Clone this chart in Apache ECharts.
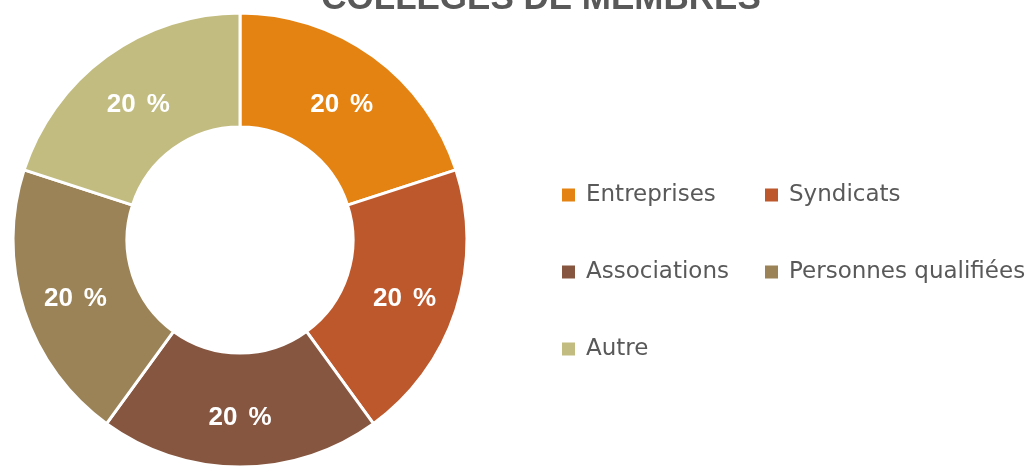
<!DOCTYPE html>
<html lang="fr">
<head>
    <meta charset="UTF-8">
    <title>Collèges de membres</title>
    <script src="https://cdn.jsdelivr.net/npm/echarts@6/dist/echarts.min.js"></script>
    <style>
        html, body { margin: 0; padding: 0; background: #fff; }
        #chart { width: 1035px; height: 468px; }
    </style>
</head>
<body>
<div id="chart"></div>
<script>
    // données du graphique
    var categories = ['Entreprises', 'Syndicats', 'Associations', 'Personnes qualifiées', 'Autre'];
    var values = [20, 20, 20, 20, 20];
    var colors = ['#E48312', '#BD582C', '#865640', '#9B8357', '#C2BC80'];

    var pieData = [];
    for (var i = 0; i < categories.length; i++) {
        pieData.push({name: categories[i], value: values[i], itemStyle: {color: colors[i]}});
    }

    var myChart = echarts.init(document.getElementById('chart'));
    var option = {
        backgroundColor: '#ffffff',
        animation: false,
        title: {
            text: 'COLLÈGES DE MEMBRES',
            left: 536,
            top: -23,
            textAlign: 'center',
            textStyle: {
                color: '#595959',
                fontFamily: 'Liberation Sans',
                fontWeight: 'bold',
                fontSize: 35
            }
        },
        legend: {
            left: 560,
            top: 172,
            padding: 0,
            width: 474,
            itemWidth: 15,
            itemHeight: 15,
            itemGap: 31,
            itemTextGap: 13,
            icon: 'rect',
            data: categories,
            textStyle: {
                color: '#595959',
                fontFamily: 'DejaVu Sans',
                fontSize: 23,
                width: 146,
                lineHeight: 46,
                padding: [0, 0, 0, 5],
                overflow: 'none'
            }
        },
        series: [
            {
                name: 'Collèges',
                type: 'pie',
                center: [240, 240],
                radius: [113, 227],
                startAngle: 90,
                clockwise: true,
                itemStyle: {
                    borderColor: '#ffffff',
                    borderWidth: 3
                },
                label: {
                    show: true,
                    position: 'inside',
                    formatter: '{c}{g| }%',
                    color: '#ffffff',
                    fontFamily: 'Liberation Sans',
                    fontWeight: 'bold',
                    fontSize: 26,
                    rich: {
                        g: {width: 11, fontSize: 26}
                    }
                },
                labelLayout: {dy: 5},
                labelLine: {show: false},
                emphasis: {disabled: true},
                data: pieData
            }
        ]
    };
    myChart.setOption(option);
</script>
</body>
</html>
